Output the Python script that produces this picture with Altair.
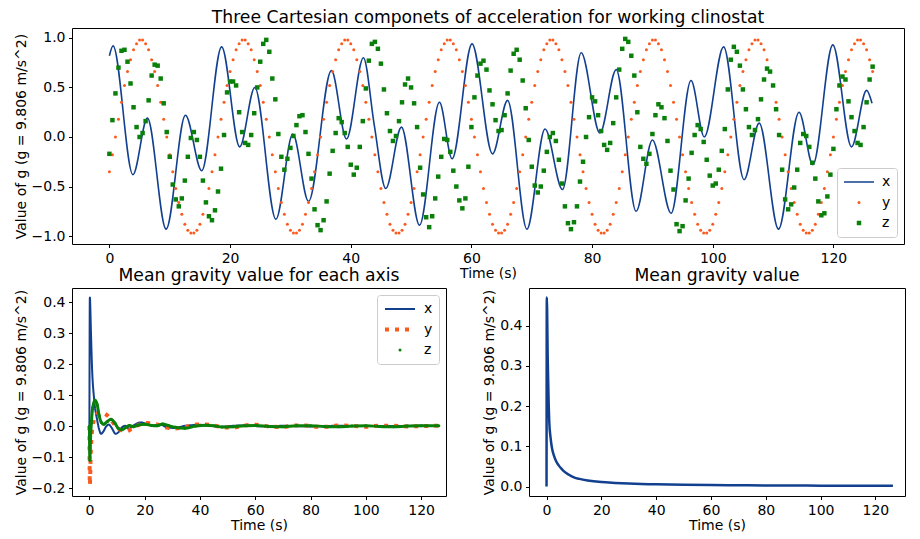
import altair as alt
import pandas as pd

FONT = "DejaVu Sans"
BLUE = "#12408f"
ORANGE = "#fa5a1e"
GREEN = "#0a800a"
SERIES = ["x", "y", "z"]
COLORS = [BLUE, ORANGE, GREEN]
Y_LABEL = "Value of g (g = 9.806 m/s^2)"
TIME_LABEL = "Time (s)"
TICKS_T = [0, 20, 40, 60, 80, 100, 120]

# ---------------- top panel: three components ----------------
X_TIME = [0.0, 0.6, 3.9, 6.3, 9.4, 12.6, 15.3, 18.6, 21.6, 24.1,
          27.6, 30.4, 33.0, 36.8, 39.3, 42.1, 43.9, 45.8, 48.4, 51.4,
          54.7, 56.8, 60.1, 63.5, 66.0, 69.2, 72.2, 75.1, 78.2, 81.3,
          84.0, 87.3, 90.0, 93.1, 96.4, 98.6, 101.8, 105.2, 107.7, 110.9,
          114.3, 116.6, 119.9, 123.0, 125.5, 126.4]
X_VALUE = [0.82, 0.92, -0.38, 0.19, -0.93, 0.22, -0.34, 0.91, -0.10, 0.50,
           -0.83, 0.03, -0.65, 0.67, -0.02, 0.80, 0.12, -0.52, 0.10, -0.89,
           0.35, -0.22, 0.94, -0.17, 0.37, -0.93, 0.08, -0.53, 0.85, 0.04,
           0.68, -0.75, -0.03, -0.77, 0.57, 0.00, 0.91, -0.43, 0.14, -0.93,
           0.25, -0.28, 0.93, -0.10, 0.47, 0.34]

SAMPLE_TIME = [round(0.5 * i, 1) for i in range(254)]
Y_VALUE = [
    -0.35, -0.18, 0.00, 0.18, 0.35, 0.52, 0.66, 0.78, 0.88, 0.94,
    0.98, 0.98, 0.94, 0.88, 0.78, 0.66, 0.52, 0.35, 0.18, 0.00,
    -0.18, -0.35, -0.52, -0.66, -0.78, -0.88, -0.94, -0.97, -0.97, -0.94,
    -0.88, -0.78, -0.66, -0.52, -0.35, -0.18, 0.00, 0.18, 0.35, 0.52,
    0.66, 0.78, 0.88, 0.94, 0.98, 0.98, 0.94, 0.88, 0.78, 0.66,
    0.52, 0.35, 0.18, 0.00, -0.18, -0.35, -0.52, -0.66, -0.78, -0.88,
    -0.94, -0.97, -0.97, -0.94, -0.88, -0.78, -0.66, -0.52, -0.35, -0.18,
    0.00, 0.18, 0.35, 0.52, 0.66, 0.78, 0.88, 0.94, 0.98, 0.98,
    0.94, 0.88, 0.78, 0.66, 0.52, 0.35, 0.18, 0.00, -0.18, -0.35,
    -0.52, -0.66, -0.78, -0.88, -0.94, -0.97, -0.97, -0.94, -0.88, -0.78,
    -0.66, -0.52, -0.35, -0.18, 0.00, 0.18, 0.35, 0.52, 0.66, 0.78,
    0.88, 0.94, 0.98, 0.98, 0.94, 0.88, 0.78, 0.66, 0.52, 0.35,
    0.18, 0.00, -0.18, -0.35, -0.52, -0.66, -0.78, -0.88, -0.94, -0.97,
    -0.97, -0.94, -0.88, -0.78, -0.66, -0.52, -0.35, -0.18, 0.00, 0.18,
    0.35, 0.52, 0.66, 0.78, 0.88, 0.94, 0.98, 0.98, 0.94, 0.88,
    0.78, 0.66, 0.52, 0.35, 0.18, 0.00, -0.18, -0.35, -0.52, -0.66,
    -0.78, -0.88, -0.94, -0.97, -0.97, -0.94, -0.88, -0.78, -0.66, -0.52,
    -0.35, -0.18, 0.00, 0.18, 0.35, 0.52, 0.66, 0.78, 0.88, 0.94,
    0.98, 0.98, 0.94, 0.88, 0.78, 0.66, 0.52, 0.35, 0.18, 0.00,
    -0.18, -0.35, -0.52, -0.66, -0.78, -0.88, -0.94, -0.97, -0.97, -0.94,
    -0.88, -0.78, -0.66, -0.52, -0.35, -0.18, 0.00, 0.18, 0.35, 0.52,
    0.66, 0.78, 0.88, 0.94, 0.98, 0.98, 0.94, 0.88, 0.78, 0.66,
    0.52, 0.35, 0.18, 0.00, -0.18, -0.35, -0.52, -0.66, -0.78, -0.88,
    -0.94, -0.97, -0.97, -0.94, -0.88, -0.78, -0.66, -0.52, -0.35, -0.18,
    0.00, 0.18, 0.35, 0.52, 0.66, 0.78, 0.88, 0.94, 0.98, 0.98,
    0.94, 0.88, 0.78, 0.66,
]
Z_VALUE = [
    -0.17, 0.17, 0.44, 0.70, 0.87, 0.88, 0.76, 0.54, 0.30, 0.10,
    0.00, 0.04, 0.16, 0.37, 0.62, 0.73, 0.72, 0.59, 0.34, 0.05,
    -0.20, -0.48, -0.63, -0.70, -0.62, -0.44, -0.20, -0.01, 0.05, -0.03,
    -0.20, -0.44, -0.66, -0.80, -0.84, -0.74, -0.55, -0.32, 0.02, 0.45,
    0.56, 0.56, 0.52, 0.25, 0.05, -0.06, -0.08, 0.02, 0.24, 0.50,
    0.76, 0.94, 0.98, 0.86, 0.59, 0.38, 0.03, -0.20, -0.33, -0.22,
    -0.11, 0.01, 0.12, 0.21, 0.22, 0.05, -0.17, -0.42, -0.73, -0.89,
    -0.94, -0.84, -0.65, -0.37, -0.14, 0.04, 0.19, 0.15, 0.04, -0.10,
    -0.28, -0.38, -0.31, -0.10, 0.16, 0.49, 0.77, 0.94, 0.96, 0.89,
    0.74, 0.48, 0.24, 0.06, -0.04, 0.01, 0.16, 0.35, 0.53, 0.59,
    0.50, 0.34, 0.10, -0.31, -0.58, -0.81, -0.91, -0.80, -0.62, -0.40,
    -0.20, -0.02, -0.03, -0.15, -0.34, -0.50, -0.64, -0.72, -0.62, -0.30,
    0.10, 0.40, 0.62, 0.74, 0.77, 0.68, 0.47, 0.33, 0.17, 0.06,
    0.07, 0.22, 0.44, 0.67, 0.84, 0.88, 0.78, 0.57, 0.29, -0.03,
    -0.30, -0.49, -0.56, -0.50, -0.34, -0.15, 0.00, 0.04, -0.04, -0.23,
    -0.47, -0.70, -0.87, -0.93, -0.86, -0.70, -0.45, -0.25, 0.00, 0.20,
    0.40, 0.36, 0.22, 0.06, -0.08, -0.13, -0.06, 0.14, 0.40, 0.68,
    0.89, 0.99, 0.96, 0.82, 0.62, 0.25, -0.10, -0.22, -0.27, -0.17,
    0.03, 0.22, 0.33, 0.30, 0.19, -0.04, -0.34, -0.53, -0.88, -0.95,
    -0.90, -0.64, -0.42, -0.16, 0.02, 0.12, 0.08, -0.05, -0.23, -0.39,
    -0.49, -0.47, -0.33, -0.14, 0.08, 0.48, 0.78, 0.91, 0.86, 0.72,
    0.48, 0.28, 0.10, 0.02, 0.07, 0.18, 0.38, 0.58, 0.69, 0.66,
    0.52, 0.28, 0.02, -0.33, -0.63, -0.73, -0.68, -0.51, -0.33, -0.06,
    0.03, 0.01, -0.10, -0.26, -0.42, -0.65, -0.79, -0.77, -0.60, -0.38,
    -0.12, 0.28, 0.52, 0.61, 0.58, 0.36, 0.20, 0.06, -0.06, -0.08,
    0.10, 0.35, 0.58, 0.71,
]

# ---------------- bottom-left: mean value for each axis ----------------
MX_TIME = [0.0, 0.15, 0.6, 0.9, 1.7, 2.8, 3.5, 4.2, 5.0, 6.0,
           7.0, 8.0, 9.5, 10.5, 12.0, 13.0, 14.3, 16.0, 18.5, 20.5,
           23.0, 25.5, 28.0, 31.0, 34.0, 37.0, 40.0, 44.0, 48.0, 52.0,
           56.0, 60.0, 65.0, 70.0, 75.0, 80.0, 90.0, 100.0, 110.0, 120.0, 126.4]
MX_VALUE = [0.0, 0.415, 0.29, 0.20, 0.087, 0.02, -0.01, -0.025, -0.018, -0.002,
            0.005, -0.005, -0.025, -0.02, -0.002, 0.001, -0.008, 0.002, 0.012, 0.008,
            0.002, 0.006, -0.004, -0.006, 0.0, 0.003, 0.004, 0.001, -0.002, 0.001,
            0.002, 0.0, -0.001, 0.001, 0.0, -0.001, 0.001, 0.0, 0.0, 0.001, 0.0]
MY_TIME = [0.0, 0.15, 0.5, 0.9, 1.5, 2.5, 4.0, 5.5, 7.0, 8.5,
           10.0, 12.0, 13.5, 15.0, 17.0, 19.0, 21.0, 23.0, 25.5, 28.0,
           30.5, 33.0, 36.0, 39.0, 42.0, 45.0, 48.0, 51.0, 54.0, 57.0,
           60.0, 63.0, 66.0, 70.0, 74.0, 78.0, 82.0, 86.0, 90.0, 95.0,
           100.0, 105.0, 110.0, 115.0, 120.0, 126.4]
MY_VALUE = [0.0, -0.19, -0.08, -0.02, 0.015, 0.035, 0.045, 0.04, 0.03, 0.012,
            -0.005, -0.015, -0.017, -0.01, 0.0, 0.008, 0.01, 0.008, 0.003, -0.005,
            -0.008, -0.006, 0.0, 0.005, 0.005, 0.002, -0.003, -0.005, -0.002, 0.003,
            0.004, 0.001, -0.002, -0.003, 0.002, 0.002, -0.002, -0.002, 0.002, 0.001,
            -0.002, 0.001, 0.001, -0.001, 0.0, 0.001]
MZ_TIME = [0.0, 0.15, 0.4, 0.7, 1.2, 2.0, 2.8, 3.5, 4.3, 5.2,
           6.5, 7.8, 9.2, 10.5, 11.8, 13.2, 14.5, 16.0, 18.0, 20.0,
           22.5, 24.5, 26.5, 28.5, 31.0, 34.5, 38.5, 42.0, 45.0, 48.0,
           52.0, 56.0, 60.0, 65.0, 70.0, 75.0, 80.0, 85.0, 90.0, 95.0,
           100.0, 105.0, 110.0, 115.0, 120.0, 126.4]
MZ_VALUE = [0.0, -0.11, -0.04, 0.01, 0.06, 0.083, 0.07, 0.035, 0.012, 0.006,
            0.015, 0.022, 0.01, -0.008, -0.012, -0.004, 0.002, -0.002, 0.004, 0.006,
            0.002, 0.001, 0.007, 0.002, -0.004, -0.007, 0.0, 0.003, 0.001, -0.003,
            -0.002, 0.001, 0.002, -0.001, -0.002, 0.001, 0.001, -0.001, -0.002, 0.0,
            0.001, -0.001, -0.002, 0.0, 0.001, 0.001]

# ---------------- bottom-right: mean gravity value ----------------
G_TIME = [0.0, 0.1, 0.45, 0.8, 1.0, 1.5, 2.0, 2.7, 3.5, 4.5,
          5.5, 6.5, 8.0, 10.0, 12.0, 15.0, 20.0, 25.0, 30.0, 40.0,
          50.0, 60.0, 70.0, 80.0, 90.0, 100.0, 110.0, 120.0, 126.4]
G_VALUE = [0.0, 0.47, 0.31, 0.20, 0.16, 0.12, 0.095, 0.077, 0.063, 0.052,
           0.044, 0.037, 0.030, 0.023, 0.019, 0.015, 0.011, 0.009, 0.0075, 0.0055,
           0.0045, 0.0038, 0.0033, 0.0028, 0.0025, 0.0022, 0.002, 0.0018, 0.0017]


def frame(times, values, name):
    return pd.DataFrame({"t": times, "v": values, "series": name})


def sc(rng, kind=None):
    if kind:
        return alt.Scale(type=kind, domain=SERIES, range=rng)
    return alt.Scale(domain=SERIES, range=rng)


def legend(orient):
    return alt.Legend(title=None, orient=orient, offset=7, fillColor="white",
                      strokeColor="#cccccc", cornerRadius=3, padding=6,
                      rowPadding=4.5, clipHeight=16, labelFont=FONT,
                      labelFontSize=14, labelColor="black", labelOffset=7,
                      symbolOpacity=1)


def xenc(domain):
    return alt.X("t:Q", scale=alt.Scale(domain=domain, nice=False, zero=False),
                 axis=alt.Axis(values=TICKS_T, title=TIME_LABEL))


def yenc(domain, ticks):
    return alt.Y("v:Q", scale=alt.Scale(domain=domain, nice=False, zero=False),
                 axis=alt.Axis(values=ticks, format=".1f", title=Y_LABEL))


# ---- top
top_line_df = frame(X_TIME, X_VALUE, "x")
top_pts_df = pd.concat([frame(SAMPLE_TIME, Y_VALUE, "y"),
                        frame(SAMPLE_TIME, Z_VALUE, "z")], ignore_index=True)
tl = legend("bottom-right")
xt = xenc([-6.2, 131.7])
yt = yenc([-1.08, 1.1], [-1.0, -0.5, 0.0, 0.5, 1.0])
top_line = alt.Chart(top_line_df).mark_line(interpolate="monotone", clip=True).encode(
    x=xt, y=yt,
    stroke=alt.Stroke("series:N", scale=sc(COLORS), legend=tl),
    strokeWidth=alt.StrokeWidth("series:N", scale=sc([1.6, 0, 0], "ordinal"), legend=tl),
)
top_pts = alt.Chart(top_pts_df).mark_point(filled=True, opacity=1, clip=True).encode(
    x=xt, y=yt,
    fill=alt.Fill("series:N", scale=sc(COLORS), legend=tl),
    shape=alt.Shape("series:N", scale=sc(["stroke", "circle", "square"]), legend=tl),
    size=alt.Size("series:N", scale=sc([900, 9, 20], "ordinal"), legend=tl),
)
top = alt.layer(top_line, top_pts).properties(
    width=832, height=216,
    title=alt.TitleParams("Three Cartesian componets of acceleration for working clinostat", offset=2),
)

# ---- bottom-left
bl_xy_df = pd.concat([frame(MX_TIME, MX_VALUE, "x"), frame(MY_TIME, MY_VALUE, "y")],
                     ignore_index=True)
bl_z_df = frame(MZ_TIME, MZ_VALUE, "z")
bll = legend("top-right")
xb = xenc([-6.3, 129.0])
yb = yenc([-0.2255, 0.4455], [-0.2, -0.1, 0.0, 0.1, 0.2, 0.3, 0.4])
bl_lines = alt.Chart(bl_xy_df).mark_line(interpolate="monotone", clip=True).encode(
    x=xb, y=yb,
    stroke=alt.Stroke("series:N", scale=sc(COLORS), legend=bll),
    strokeWidth=alt.StrokeWidth("series:N", scale=sc([2, 4, 0], "ordinal"), legend=bll),
    strokeDash=alt.StrokeDash("series:N", scale=sc([[1, 0], [4, 6], [1, 0]]), legend=bll),
)
bl_zline = alt.Chart(bl_z_df).mark_line(interpolate="monotone", strokeWidth=3, clip=True).encode(
    x=xb, y=yb,
    stroke=alt.Stroke("series:N", scale=sc(COLORS), legend=bll),
)
bl_zpts = alt.Chart(bl_z_df).mark_point(filled=True, opacity=1, clip=True).encode(
    x=xb, y=yb,
    fill=alt.Fill("series:N", scale=sc(COLORS), legend=bll),
    shape=alt.Shape("series:N", scale=sc(["stroke", "stroke", "circle"]), legend=bll),
    size=alt.Size("series:N", scale=sc([900, 900, 9], "ordinal"), legend=bll),
)
bl = alt.layer(bl_lines, bl_zline, bl_zpts).properties(
    width=374, height=208,
    title=alt.TitleParams("Mean gravity value for each axis", offset=4),
)

# ---- bottom-right
br_df = pd.DataFrame({"t": G_TIME, "v": G_VALUE})
br = alt.Chart(br_df).mark_line(interpolate="monotone", color=BLUE, strokeWidth=2.5).encode(
    x=xenc([-6.4, 130.8]),
    y=yenc([-0.0235, 0.4935], [0.0, 0.1, 0.2, 0.3, 0.4]),
).properties(width=376, height=208,
             title=alt.TitleParams("Mean gravity value", offset=4))

CH = ["stroke", "fill", "shape", "size", "strokeWidth", "strokeDash"]
indep = {c: "independent" for c in CH}

bottom = alt.hconcat(bl, br, spacing=35).resolve_scale(**indep).resolve_legend(**indep)
chart = alt.vconcat(top, bottom, spacing=-15).resolve_scale(**indep).resolve_legend(**indep)

chart = chart.properties(
    padding={"left": 5, "top": 0, "right": 0, "bottom": 0},
    background="white",
).configure(font=FONT).configure_view(
    stroke="black", strokeWidth=1,
).configure_axis(
    labelFont=FONT, labelFontSize=14, labelColor="black",
    titleFont=FONT, titleFontSize=14, titleFontWeight="normal", titleColor="black",
    tickColor="black", tickSize=3.5, tickWidth=1, labelPadding=3.5,
    domain=False, grid=False, labelFlush=False, labelOverlap=False,
).configure_axisX(titlePadding=1).configure_axisY(titlePadding=3).configure_title(
    font=FONT, fontSize=17.2, fontWeight="normal", color="black",
    anchor="middle", baseline="bottom",
)

chart.save("out.html", embed_options={"renderer": "svg", "actions": False})
